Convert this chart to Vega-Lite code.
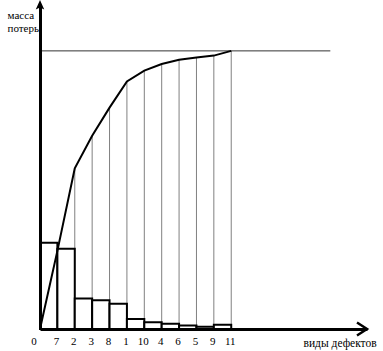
{
  "$schema": "https://vega.github.io/schema/vega-lite/v6.json",
  "width": 327,
  "height": 324,
  "autosize": {"type": "none"},
  "padding": {"left": 40, "top": 5, "right": 16, "bottom": 22},
  "background": "white",
  "config": {"view": {"stroke": null}, "font": "Liberation Serif"},
  "datasets": {
    "bars": [
      {"defect": "7", "lo": 0, "hi": 1, "mass": 31.0},
      {"defect": "2", "lo": 1, "hi": 2, "mass": 28.9},
      {"defect": "3", "lo": 2, "hi": 3, "mass": 11.0},
      {"defect": "8", "lo": 3, "hi": 4, "mass": 10.3},
      {"defect": "1", "lo": 4, "hi": 5, "mass": 9.1},
      {"defect": "10", "lo": 5, "hi": 6, "mass": 3.6},
      {"defect": "4", "lo": 6, "hi": 7, "mass": 2.4},
      {"defect": "6", "lo": 7, "hi": 8, "mass": 1.9},
      {"defect": "5", "lo": 8, "hi": 9, "mass": 1.3},
      {"defect": "9", "lo": 9, "hi": 10, "mass": 0.8},
      {"defect": "11", "lo": 10, "hi": 11, "mass": 1.5}
    ],
    "curve": [
      {"pos": 0, "cum": 0},
      {"pos": 1, "cum": 28.1},
      {"pos": 2, "cum": 57.8},
      {"pos": 3, "cum": 69.5},
      {"pos": 4, "cum": 79.6},
      {"pos": 5, "cum": 89.0},
      {"pos": 6, "cum": 92.9},
      {"pos": 7, "cum": 95.3},
      {"pos": 8, "cum": 96.8},
      {"pos": 9, "cum": 97.6},
      {"pos": 10, "cum": 98.3},
      {"pos": 11, "cum": 100}
    ]
  },
  "encoding": {
    "x": {"type": "quantitative", "scale": {"domain": [0, 18.81], "nice": false, "zero": false},
      "axis": {"domainWidth": 3, "domainColor": "black", "ticks": false, "labels": false, "grid": false, "zindex": 1,
        "title": "виды дефектов", "titleFont": "Liberation Serif", "titleFontSize": 11.5, "titleFontWeight": "normal", "titleColor": "black",
        "titleAnchor": "start", "titleAlign": "left", "titleBaseline": "alphabetic", "titleX": 263, "titleY": 17}},
    "y": {"type": "quantitative", "scale": {"domain": [0, 116.5], "nice": false},
      "axis": {"domainWidth": 3, "domainColor": "black", "ticks": false, "labels": false, "grid": false, "zindex": 1,
        "title": ["масса", "потерь"], "titleFont": "Liberation Serif", "titleFontSize": 11, "titleFontWeight": "normal", "titleColor": "black",
        "titleAngle": 0, "titleAlign": "left", "titleBaseline": "alphabetic", "titleLineHeight": 13, "titleX": -33, "titleY": 13, "titleLimit": 200}}
  },
  "layer": [
    {
      "data": {"name": "curve"},
      "mark": {"type": "rule", "color": "#808080", "strokeWidth": 1},
      "encoding": {"x": {"field": "pos"}, "y": {"field": "cum"}, "y2": {"datum": 0}}
    },
    {
      "data": {"name": "bars"},
      "mark": {"type": "rect", "fill": "white", "stroke": "black", "strokeWidth": 2},
      "encoding": {"x": {"field": "lo"}, "x2": {"field": "hi"}, "y": {"field": "mass"}, "y2": {"datum": 0}}
    },
    {
      "data": {"values": [{}]},
      "mark": {"type": "rule", "color": "#333333", "strokeWidth": 1},
      "encoding": {"x": {"datum": 0}, "x2": {"datum": 16.7}, "y": {"datum": 100}}
    },
    {
      "data": {"name": "curve"},
      "mark": {"type": "line", "color": "black", "strokeWidth": 2},
      "encoding": {"x": {"field": "pos"}, "y": {"field": "cum"}}
    },
    {
      "data": {"values": [{}]},
      "mark": {"type": "point", "shape": "M0,-1L0.85,0.9L0,0.5L-0.85,0.9Z", "size": 100, "filled": true, "color": "black", "opacity": 1, "strokeWidth": 1},
      "encoding": {"x": {"datum": 0}, "y": {"datum": 116.5}}
    },
    {
      "data": {"values": [{}]},
      "mark": {"type": "point", "shape": "M-1,-0.65L0,0L-1,0.65", "size": 400, "filled": false, "color": "black", "opacity": 1, "strokeWidth": 2.5},
      "encoding": {"x": {"datum": 18.81}, "y": {"datum": 0}}
    },
    {
      "data": {"name": "bars"},
      "mark": {"type": "text", "font": "Liberation Serif", "fontSize": 11, "color": "black", "baseline": "middle", "align": "center", "dy": 13, "dx": -1},
      "encoding": {"x": {"field": "hi"}, "y": {"datum": 0}, "text": {"field": "defect"}}
    },
    {
      "data": {"values": [{"label": "0"}]},
      "mark": {"type": "text", "font": "Liberation Serif", "fontSize": 11, "color": "black", "baseline": "middle", "align": "center", "dy": 13, "dx": -6},
      "encoding": {"x": {"datum": 0}, "y": {"datum": 0}, "text": {"field": "label"}}
    }
  ]
}
